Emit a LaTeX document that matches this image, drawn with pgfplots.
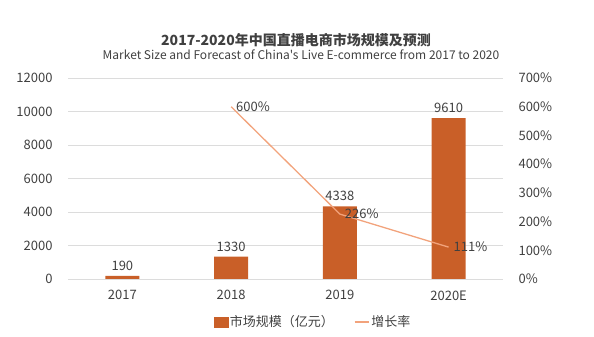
\documentclass[border=0pt]{standalone}
\usepackage{pgfplots}
\pgfplotsset{compat=1.18}
\usepackage{fontspec}
\setmainfont{Noto Sans CJK SC}
\newfontfamily\subfont[Ligatures=TeXOff]{Noto Sans CJK SC}
\definecolor{barc}{HTML}{C95F28}
\definecolor{linec}{HTML}{F2A37C}
\definecolor{txt}{HTML}{404040}
\definecolor{gridc}{HTML}{DCDCDC}
\begin{document}
\begin{tikzpicture}[x=1pt,y=1pt]
\useasboundingbox (0,0) rectangle (594,337);
\node[font=\fontsize{14}{16}\selectfont\bfseries, text=txt] at (296,297) {2017-2020年中国直播电商市场规模及预测};
\node[font=\subfont\fontsize{12}{14}\selectfont, text=txt] at (301,282) {Market Size and Forecast of China's Live E-commerce from 2017 to 2020};
\begin{axis}[
  at={(68pt,58pt)}, anchor=south west, scale only axis,
  width=435pt, height=201pt,
  xmin=-0.5, xmax=3.5, ymin=0, ymax=12000,
  ytick={0,2000,...,12000},
  xtick={0,1,2,3}, xticklabels={2017,2018,2019,2020E},
  axis line style={draw=none}, major tick length=0pt,
  ymajorgrids, grid style={gridc, line width=0.8pt},
  scaled y ticks=false,
  /pgf/number format/1000 sep={},
  /pgf/number format/assume math mode=true,
  tick label style={font=\fontsize{13}{15}\selectfont, text=txt},
  yticklabel style={xshift=-12pt},
  xticklabel style={yshift=-8pt},
  clip=false,
]
\addplot[ybar, bar width=34pt, bar shift=0pt, fill=barc, draw=none,
  nodes near coords,
  every node near coord/.append style={font=\fontsize{13}{15}\selectfont, text=txt, yshift=2pt}]
  coordinates {(0,190) (1,1330) (2,4338) (3,9610)};
\end{axis}
\begin{axis}[
  at={(68pt,58pt)}, anchor=south west, scale only axis,
  width=435pt, height=201pt,
  xmin=-0.5, xmax=3.5, ymin=0, ymax=700,
  axis y line*=right, axis x line=none,
  ytick={0,100,...,700},
  yticklabel={\pgfmathprintnumber{\tick}\%},
  axis line style={draw=none}, major tick length=0pt,
  /pgf/number format/assume math mode=true,
  tick label style={font=\fontsize{13}{15}\selectfont, text=txt},
  yticklabel style={xshift=12pt},
  clip=false,
  legend columns=2,
  legend style={draw=none, fill=none, at={(0.563,-0.214)}, anchor=center,
    font=\fontsize{13}{15}\selectfont, text=txt,
    /tikz/every even column/.append style={column sep=18pt},
    nodes={inner xsep=2pt}},
]
\addlegendimage{legend image code/.code={\fill[barc] (0pt,-5pt) rectangle (14pt,5pt);}}
\addlegendentry{市场规模（亿元）}
\addplot[linec, line width=1.3pt, mark=none,
  legend image code/.code={\draw[linec, line width=1.3pt] (0pt,0pt) -- (14pt,0pt);},
  nodes near coords={\pgfmathprintnumber{\pgfplotspointmeta}\%},
  every node near coord/.append style={font=\fontsize{13}{15}\selectfont, text=txt, anchor=west, xshift=1pt}]
  coordinates {(1,600) (2,226) (3,111)};
\addlegendentry{增长率}
\end{axis}
\end{tikzpicture}
\end{document}
